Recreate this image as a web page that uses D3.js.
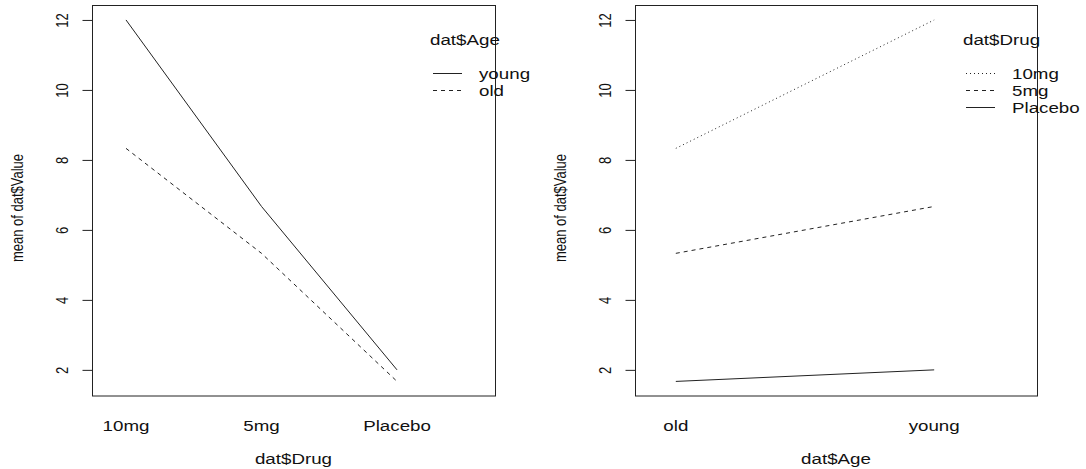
<!DOCTYPE html>
<meta charset="utf-8">
<head>
    <style>
        body { margin: 0; background: #fff; }
        text {
            font-family: "Liberation Sans", Arial, sans-serif;
            font-size: 15px;
            fill: #111;
        }
        .frame { fill: none; stroke: #222; stroke-width: 1; }
        .series { fill: none; stroke: #222; stroke-width: 1; }
    </style>
</head>
<body>
<svg width="1086" height="469"></svg>
<script src="https://d3js.org/d3.v7.min.js"></script>
<script>

    // means of dat$Value
    var drugs = ["10mg", "5mg", "Placebo"];
    var ages = ["old", "young"];
    var youngMeans = [12, 6.67, 2];
    var oldMeans = [8.33, 5.33, 1.67];
    var yTicks = [2, 4, 6, 8, 10, 12];

    var dash = { solid: null, dashed: "4,4", dotted: "1,3" };
    var stretch = 1.25; // the picture is wide, text looks stretched sideways

    var svg = d3.select("svg");

    var y = d3.scaleLinear().domain([1.253, 12.413]).range([396, 5.5]);

    // horizontal text, widened
    function label(g, x, yy, str, anchor) {
        g.append("g")
            .attr("transform", "translate(" + x + "," + yy + ") scale(" + stretch + ",1)")
            .append("text")
            .attr("text-anchor", anchor || "start")
            .text(str);
    }

    function panel(opt) {
        var g = svg.append("g");
        var x = d3.scaleLinear().domain(opt.xdom).range([opt.left, opt.right]);

        g.append("rect").attr("class", "frame")
            .attr("x", opt.left + 0.5).attr("y", y.range()[1])
            .attr("width", opt.right - opt.left).attr("height", y.range()[0] - y.range()[1]);

        // y axis, R style: labels parallel to axis
        var ax = g.append("g")
            .attr("transform", "translate(" + (opt.left + 0.5) + ",0)")
            .call(d3.axisLeft(y).tickValues(yTicks).tickSize(10).tickSizeOuter(0));
        ax.select(".domain").remove();
        ax.selectAll(".tick line").attr("stroke", "#222");
        ax.selectAll(".tick text")
            .attr("x", null).attr("dy", null)
            .attr("text-anchor", "middle")
            .attr("transform", "translate(-24.5,0) scale(1.3,1) rotate(-90)")
            .attr("fill", "#111")
            .style("font-size", "13px")
            .style("font-family", "Liberation Sans, Arial, sans-serif");

        g.append("text")
            .attr("text-anchor", "middle")
            .style("font-size", "13px")
            .attr("transform", "translate(" + (opt.left - 69) + ",208) scale(1.3,1) rotate(-90)")
            .text("mean of dat$Value");

        opt.cats.forEach(function (d, i) {
            label(g, x(i + 1), 431, d, "middle");
        });
        label(g, (opt.left + opt.right) / 2, 464, opt.xtitle, "middle");

        var line = d3.line()
            .x(function (d, i) { return x(i + 1); })
            .y(function (d) { return y(d); });

        g.selectAll(".series").data(opt.series).enter().append("path")
            .attr("class", "series")
            .attr("d", function (s) { return line(s.values); })
            .attr("stroke-dasharray", function (s) { return dash[s.lty]; });

        // legend
        var lg = g.append("g").attr("transform", "translate(" + opt.legX + ",0)");
        label(lg, 0, 45, opt.legTitle);
        opt.series.forEach(function (s, i) {
            var yy = 73.5 + i * 17;
            lg.append("line").attr("class", "series")
                .attr("x1", 3).attr("x2", 32).attr("y1", yy).attr("y2", yy)
                .attr("stroke-dasharray", dash[s.lty]);
            label(lg, 49, yy + 5, s.name);
        });
    }

    panel({
        left: 92, right: 495, xdom: [0.749, 3.723],
        cats: drugs, xtitle: "dat$Drug", legTitle: "dat$Age", legX: 430,
        series: [
            { name: "young", lty: "solid", values: youngMeans },
            { name: "old", lty: "dashed", values: oldMeans }
        ]
    });

    panel({
        left: 635, right: 1037, xdom: [0.842, 2.398],
        cats: ages, xtitle: "dat$Age", legTitle: "dat$Drug", legX: 963,
        series: [
            { name: "10mg", lty: "dotted", values: [oldMeans[0], youngMeans[0]] },
            { name: "5mg", lty: "dashed", values: [oldMeans[1], youngMeans[1]] },
            { name: "Placebo", lty: "solid", values: [oldMeans[2], youngMeans[2]] }
        ]
    });

</script>
</body>
